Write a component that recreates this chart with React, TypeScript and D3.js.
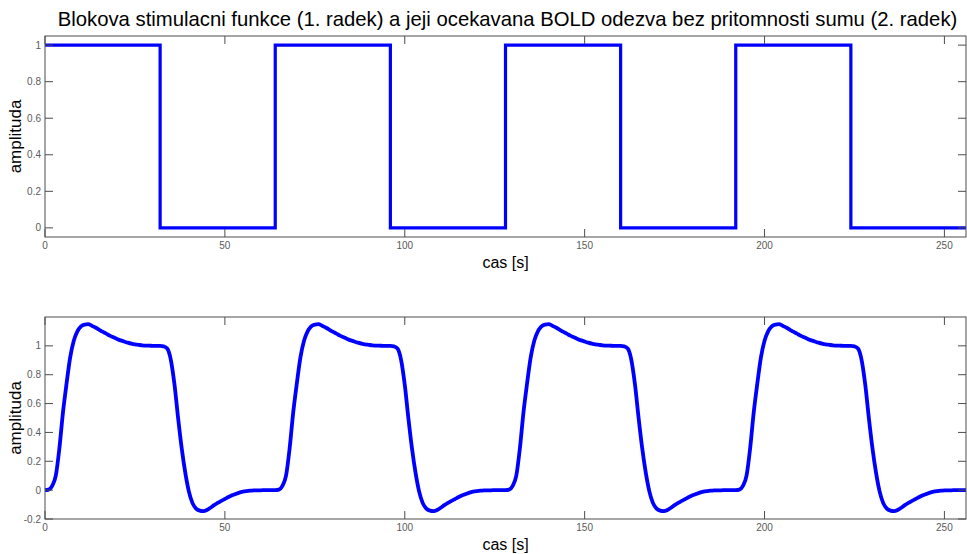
import React from "react";
import * as d3 from "d3";

const TITLE = "Blokova stimulacni funkce (1. radek) a jeji ocekavana BOLD odezva bez pritomnosti sumu (2. radek)";
const X_LABEL = "cas [s]";
const Y_LABEL = "amplituda";

// Block stimulus: value held from each start time until the next
const blockTimes = [0, 32, 64, 96, 128, 160, 192, 224, 256];
const blockValues = [1, 0, 1, 0, 1, 0, 1, 0, 0];

// Expected BOLD response, sampled every 1 s from 0 to 256 s
const boldValues = [
  0, 0.004, 0.03, 0.10, 0.29, 0.54, 0.74, 0.92, 1.035, 1.10,
  1.135, 1.148, 1.15, 1.14, 1.127, 1.113, 1.098, 1.085, 1.071, 1.059,
  1.048, 1.038, 1.03, 1.022, 1.015, 1.01, 1.007, 1.004, 1.002, 1.001,
  1.0, 1.0, 1.0, 0.997, 0.98, 0.90, 0.73, 0.5, 0.29, 0.12,
  -0.01, -0.09, -0.128, -0.142, -0.146, -0.138, -0.122, -0.104, -0.088, -0.074,
  -0.061, -0.048, -0.036, -0.026, -0.017, -0.011, -0.007, -0.004, -0.002, -0.001,
  -0.001, 0, 0, 0,
  0, 0.004, 0.03, 0.10, 0.29, 0.54, 0.74, 0.92, 1.035, 1.10,
  1.135, 1.148, 1.15, 1.14, 1.127, 1.113, 1.098, 1.085, 1.071, 1.059,
  1.048, 1.038, 1.03, 1.022, 1.015, 1.01, 1.007, 1.004, 1.002, 1.001,
  1.0, 1.0, 1.0, 0.997, 0.98, 0.90, 0.73, 0.5, 0.29, 0.12,
  -0.01, -0.09, -0.128, -0.142, -0.146, -0.138, -0.122, -0.104, -0.088, -0.074,
  -0.061, -0.048, -0.036, -0.026, -0.017, -0.011, -0.007, -0.004, -0.002, -0.001,
  -0.001, 0, 0, 0,
  0, 0.004, 0.03, 0.10, 0.29, 0.54, 0.74, 0.92, 1.035, 1.10,
  1.135, 1.148, 1.15, 1.14, 1.127, 1.113, 1.098, 1.085, 1.071, 1.059,
  1.048, 1.038, 1.03, 1.022, 1.015, 1.01, 1.007, 1.004, 1.002, 1.001,
  1.0, 1.0, 1.0, 0.997, 0.98, 0.90, 0.73, 0.5, 0.29, 0.12,
  -0.01, -0.09, -0.128, -0.142, -0.146, -0.138, -0.122, -0.104, -0.088, -0.074,
  -0.061, -0.048, -0.036, -0.026, -0.017, -0.011, -0.007, -0.004, -0.002, -0.001,
  -0.001, 0, 0, 0,
  0, 0.004, 0.03, 0.10, 0.29, 0.54, 0.74, 0.92, 1.035, 1.10,
  1.135, 1.148, 1.15, 1.14, 1.127, 1.113, 1.098, 1.085, 1.071, 1.059,
  1.048, 1.038, 1.03, 1.022, 1.015, 1.01, 1.007, 1.004, 1.002, 1.001,
  1.0, 1.0, 1.0, 0.997, 0.98, 0.90, 0.73, 0.5, 0.29, 0.12,
  -0.01, -0.09, -0.128, -0.142, -0.146, -0.138, -0.122, -0.104, -0.088, -0.074,
  -0.061, -0.048, -0.036, -0.026, -0.017, -0.011, -0.007, -0.004, -0.002, -0.001,
  -0.001, 0, 0, 0,
  0,
];

const xTicks = [0, 50, 100, 150, 200, 250];
const yTicksTop = [0, 0.2, 0.4, 0.6, 0.8, 1];
const yTicksBottom = [-0.2, 0, 0.2, 0.4, 0.6, 0.8, 1];

const W = 967;
const H = 554;
const FONT = "Arial, 'Liberation Sans', Helvetica, sans-serif";
const AXIS = "#4d4d4d";
const TICKTXT = "#5a5a5a";
const BLUE = "#0000ff";

type PanelProps = {
  top: number;
  bottom: number;
  yDomain: [number, number];
  yTicks: number[];
  children: (x: d3.ScaleLinear<number, number>, y: d3.ScaleLinear<number, number>) => React.ReactNode;
};

const LEFT = 45;
const RIGHT = 966;
const TICK = 8;

function Panel({ top, bottom, yDomain, yTicks, children }: PanelProps) {
  const x = d3.scaleLinear().domain([0, 256]).range([LEFT, RIGHT]);
  const y = d3.scaleLinear().domain(yDomain).range([bottom, top]);
  const fmt = (v: number) => (Math.abs(v) < 1e-9 ? "0" : String(+v.toFixed(1)));
  return (
    <g>
      <g>{children(x, y)}</g>
      <rect x={LEFT} y={top} width={RIGHT - LEFT} height={bottom - top} fill="none" stroke={AXIS} strokeWidth={1} />
      {xTicks.map((t) => (
        <g key={"x" + t}>
          <line x1={x(t)} x2={x(t)} y1={bottom} y2={bottom - TICK} stroke={AXIS} />
          <line x1={x(t)} x2={x(t)} y1={top} y2={top + TICK} stroke={AXIS} />
          <text x={x(t)} y={bottom + 12} textAnchor="middle" fontSize={10} fill={TICKTXT} fontFamily={FONT}>
            {t}
          </text>
        </g>
      ))}
      {yTicks.map((t) => (
        <g key={"y" + t}>
          <line x1={LEFT} x2={LEFT + TICK} y1={y(t)} y2={y(t)} stroke={AXIS} />
          <line x1={RIGHT} x2={RIGHT - TICK} y1={y(t)} y2={y(t)} stroke={AXIS} />
          <text x={LEFT - 4} y={y(t) + 3.5} textAnchor="end" fontSize={10} fill={TICKTXT} fontFamily={FONT}>
            {fmt(t)}
          </text>
        </g>
      ))}
      <text x={(LEFT + RIGHT) / 2} y={bottom + 31} textAnchor="middle" fontSize={16} fill="#000" fontFamily={FONT}>
        {X_LABEL}
      </text>
      <text
        transform={`translate(21,${(top + bottom) / 2}) rotate(-90)`}
        textAnchor="middle"
        fontSize={17}
        fill="#000"
        fontFamily={FONT}
      >
        {Y_LABEL}
      </text>
    </g>
  );
}

export default function App() {
  const blockPts = blockTimes.map((t, i) => [t, blockValues[i]] as [number, number]);
  const boldPts = boldValues.map((v, i) => [i, v] as [number, number]);
  return (
    <svg
      width={W}
      height={H}
      style={{ position: "absolute", left: 0, top: 0, background: "#fff" }}
    >
      <rect x={0} y={0} width={W} height={H} fill="#fff" />
      <text x={(LEFT + RIGHT) / 2 + 2} y={26} textAnchor="middle" fontSize={20.3} fill="#000" fontFamily={FONT}>
        {TITLE}
      </text>
      <Panel top={36} bottom={237} yDomain={[-0.05, 1.05]} yTicks={yTicksTop}>
        {(x, y) => {
          const line = d3
            .line<[number, number]>()
            .x((d) => x(d[0]))
            .y((d) => y(d[1]))
            .curve(d3.curveStepAfter);
          return <path d={line(blockPts) || ""} fill="none" stroke={BLUE} strokeWidth={3.2} />;
        }}
      </Panel>
      <Panel top={317} bottom={519} yDomain={[-0.2, 1.2]} yTicks={yTicksBottom}>
        {(x, y) => {
          const line = d3
            .line<[number, number]>()
            .x((d) => x(d[0]))
            .y((d) => y(d[1]))
            .curve(d3.curveMonotoneX);
          return <path d={line(boldPts) || ""} fill="none" stroke={BLUE} strokeWidth={3.8} strokeLinejoin="round" />;
        }}
      </Panel>
    </svg>
  );
}
